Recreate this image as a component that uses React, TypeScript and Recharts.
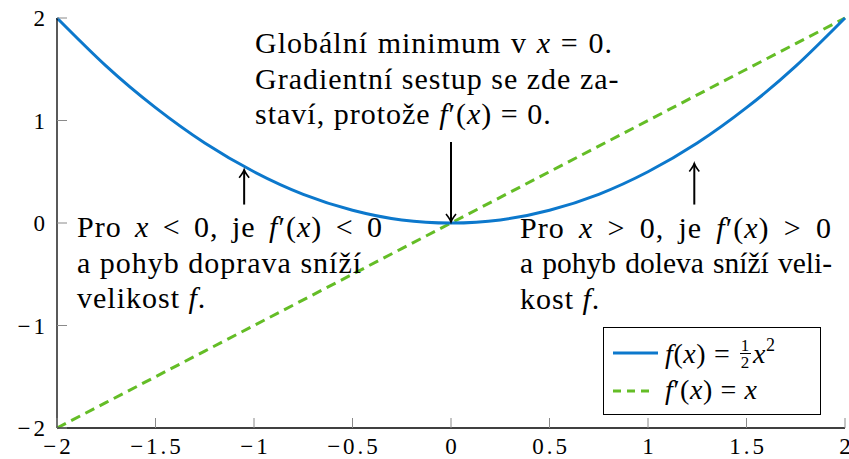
import React from 'react';
import { LineChart, Line, XAxis, YAxis, ReferenceLine, Legend } from 'recharts';

// samples
const xValues = [-2, -1.75, -1.5, -1.25, -1, -0.75, -0.5, -0.25, 0, 0.25, 0.5, 0.75, 1, 1.25, 1.5, 1.75, 2];
const fValues = [2, 1.53, 1.125, 0.78, 0.5, 0.28, 0.125, 0.03, 0, 0.03, 0.125, 0.28, 0.5, 0.78, 1.125, 1.53, 2];
const dfValues = [-2, -1.75, -1.5, -1.25, -1, -0.75, -0.5, -0.25, 0, 0.25, 0.5, 0.75, 1, 1.25, 1.5, 1.75, 2];

const xTicks = [-2, -1.5, -1, -0.5, 0, 0.5, 1, 1.5, 2];
const yTicks = [-2, -1, 0, 1, 2];

// annotation arrows: [x, yFrom, yTo] (head at yTo)
const arrows = [
  [-1.05, 0.18, 0.52],
  [0, 0.79, 0.01],
  [1.235, 0.18, 0.58],
];

const data = xValues.map((x, i) => ({ x, f: fValues[i], df: dfValues[i] }));

const serif = '"Liberation Serif", serif';
const blue = '#0c78cc';
const green = '#64bd26';
const tickGray = '#8a8a8a';

const fmt = (v: number) => String(v).replace('-', '\u2212');

const BottomTick = (props: any) => {
  const { x, y, payload } = props;
  return (
    <g>
      <line x1={x} y1={y} x2={x} y2={y - 10} stroke={tickGray} strokeWidth={1} />
      <text x={x + 1.5} y={y + 26} textAnchor="middle" fontFamily={serif} fontSize={23} letterSpacing={3} fill="#000">
        {fmt(payload.value)}
      </text>
    </g>
  );
};

const TopTick = (props: any) => {
  const { x, y } = props;
  return <line x1={x} y1={y} x2={x} y2={y + 10} stroke={tickGray} strokeWidth={1} />;
};

const LeftTick = (props: any) => {
  const { x, y, payload } = props;
  return (
    <g>
      <line x1={x} y1={y} x2={x + 10} y2={y} stroke={tickGray} strokeWidth={1} />
      <text x={x - 9} y={y + 8} textAnchor="end" fontFamily={serif} fontSize={23} letterSpacing={3} fill="#000">
        {fmt(payload.value)}
      </text>
    </g>
  );
};

const RightTick = (props: any) => {
  const { x, y } = props;
  return <line x1={x} y1={y} x2={x - 10} y2={y} stroke={tickGray} strokeWidth={1} />;
};

const arrowShape = (props: any) => {
  const { x1, y1, x2, y2 } = props;
  const d = y2 > y1 ? 1 : -1;
  return (
    <g>
      <line x1={x1} y1={y1} x2={x2} y2={y2} stroke="#000" strokeWidth={2} />
      <path
        d={`M ${x2 - 5} ${y2 - d * 8} Q ${x2 - 1} ${y2 - d * 3} ${x2} ${y2} Q ${x2 + 1} ${y2 - d * 3} ${x2 + 5} ${y2 - d * 8}`}
        fill="none"
        stroke="#000"
        strokeWidth={1.6}
      />
    </g>
  );
};

const Frac = () => (
  <span style={{ display: 'inline-flex', flexDirection: 'column', alignItems: 'center', fontSize: 17, lineHeight: '15px', verticalAlign: '12px', margin: '0 2px' }}>
    <span>1</span>
    <span style={{ borderTop: '1px solid #000', paddingTop: 1, width: 11, textAlign: 'center' }}>2</span>
  </span>
);

const renderLegend = () => (
  <div style={{ position: 'relative', width: 218, height: 88, boxSizing: 'border-box', border: '1px solid #000', background: '#fff', fontFamily: serif, fontSize: 28, color: '#000' }}>
    <svg width={50} height={10} style={{ position: 'absolute', left: 9, top: 20 }}>
      <line x1={0} y1={5} x2={45} y2={5} stroke={blue} strokeWidth={3} />
    </svg>
    <div style={{ position: 'absolute', left: 61, top: 8, lineHeight: '36px', whiteSpace: 'nowrap', letterSpacing: 0.6 }}>
      <i>f</i>(<i>x</i>) = <Frac /><i>x</i><sup style={{ fontSize: 18, verticalAlign: '12px', lineHeight: 0 }}>2</sup>
    </div>
    <svg width={50} height={10} style={{ position: 'absolute', left: 9, top: 58 }}>
      <line x1={0} y1={5} x2={41} y2={5} stroke={green} strokeWidth={3} strokeDasharray="8 6" />
    </svg>
    <div style={{ position: 'absolute', left: 61, top: 44, lineHeight: '36px', whiteSpace: 'nowrap', letterSpacing: 0.6 }}>
      <i>f</i>′(<i>x</i>) = <i>x</i>
    </div>
  </div>
);

const block: React.CSSProperties = {
  position: 'absolute',
  fontFamily: serif,
  fontSize: 30,
  lineHeight: '35.5px',
  letterSpacing: 1,
  color: '#000',
  whiteSpace: 'nowrap',
};

const just = (w: number): React.CSSProperties => ({ width: w, textAlign: 'justify', textAlignLast: 'justify' });

const App = () => (
  <div style={{ position: 'absolute', left: 0, top: 0, width: 849, height: 459, background: '#fff' }}>
    <LineChart width={849} height={459} data={data} margin={{ top: 18, right: 4, bottom: 0, left: 0 }}>
      <XAxis dataKey="x" type="number" domain={[-2, 2]} ticks={xTicks} height={31} tickSize={0} tickMargin={0} tickLine={false}
        tick={<BottomTick />} axisLine={{ stroke: '#000', strokeWidth: 1.3 }} interval={0} />
      <XAxis xAxisId="top" dataKey="x" type="number" orientation="top" domain={[-2, 2]} ticks={xTicks} height={0} tickSize={0}
        tickMargin={0} tickLine={false} tick={<TopTick />} axisLine={{ stroke: '#000', strokeWidth: 1.3 }} interval={0} />
      <YAxis type="number" domain={[-2, 2]} ticks={yTicks} width={57} tickSize={0} tickMargin={0} tickLine={false}
        tick={<LeftTick />} axisLine={{ stroke: '#000', strokeWidth: 1.3 }} interval={0} />
      <YAxis yAxisId="right" type="number" orientation="right" domain={[-2, 2]} ticks={yTicks} width={0} tickSize={0}
        tickMargin={0} tickLine={false} tick={<RightTick />} axisLine={{ stroke: '#000', strokeWidth: 1.3 }} interval={0} />
      <Line dataKey="df" type="linear" stroke={green} strokeWidth={3} strokeDasharray="10 6" dot={false} isAnimationActive={false} />
      <Line dataKey="f" type="natural" stroke={blue} strokeWidth={3} dot={false} isAnimationActive={false} />
      {arrows.map(([x, y0, y1], i) => (
        <ReferenceLine key={i} segment={[{ x, y: y0 }, { x, y: y1 }]} shape={arrowShape} />
      ))}
      <Legend layout="vertical" align="center" verticalAlign="middle" content={renderLegend}
        wrapperStyle={{ left: 603, top: 327, width: 218, height: 88 }} />
    </LineChart>

    <div style={{ ...block, left: 255, top: 25 }}>
      <div style={just(358)}>Globální minimum v <i>x</i> = 0.</div>
      <div style={just(358)}>Gradientní sestup se zde za-</div>
      <div>staví, protože <i>f</i>′(<i>x</i>) = 0.</div>
    </div>

    <div style={{ ...block, left: 77, top: 209 }}>
      <div style={just(306)}>Pro <i>x</i> &lt; 0, je <i>f</i>′(<i>x</i>) &lt; 0</div>
      <div>a pohyb doprava sníží</div>
      <div>velikost <i>f</i>.</div>
    </div>

    <div style={{ ...block, left: 520, top: 210 }}>
      <div style={just(312)}>Pro <i>x</i> &gt; 0, je <i>f</i>′(<i>x</i>) &gt; 0</div>
      <div style={{ ...just(312), letterSpacing: 0, fontSize: 29.5 }}>a pohyb doleva sníží veli-</div>
      <div>kost <i>f</i>.</div>
    </div>
  </div>
);

export default App;
